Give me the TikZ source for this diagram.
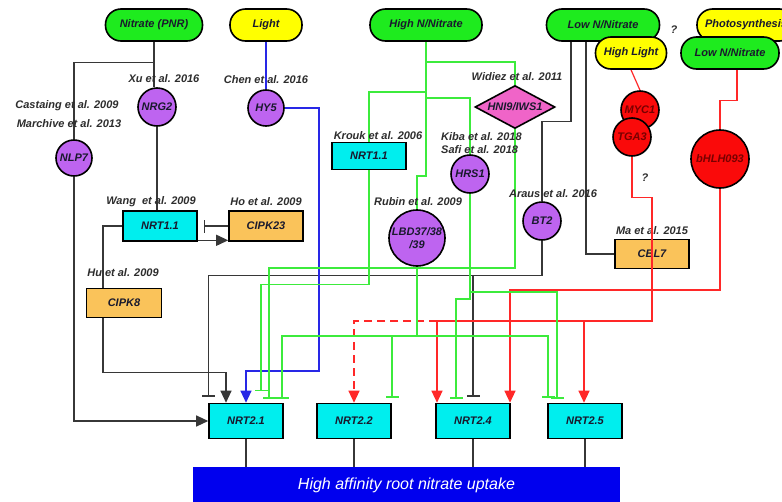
\documentclass[tikz,border=0pt]{standalone}
\usepackage{fontspec}
\setmainfont{Liberation Sans}
\usetikzlibrary{arrows.meta,shapes.geometric}
\definecolor{cgreen}{RGB}{30,235,30}
\definecolor{cyellow}{RGB}{255,255,0}
\definecolor{cpurple}{RGB}{190,100,240}
\definecolor{cpink}{RGB}{240,100,200}
\definecolor{cred}{RGB}{250,10,10}
\definecolor{ccyan}{RGB}{0,238,238}
\definecolor{corange}{RGB}{250,195,90}
\definecolor{cbar}{RGB}{0,0,238}
\definecolor{lgreen}{RGB}{60,235,60}
\definecolor{lred}{RGB}{255,40,40}
\definecolor{lblue}{RGB}{40,40,230}
\definecolor{lblack}{RGB}{55,55,55}
\definecolor{labc}{RGB}{45,45,45}
\definecolor{txtc}{RGB}{25,25,45}
\definecolor{redtxt}{RGB}{120,0,0}
\pgfdeclarelayer{bg}
\pgfsetlayers{bg,main}
\begin{document}
\begin{tikzpicture}[x=1pt,y=-1pt,
  fnt/.style={font=\fontsize{11}{13}\selectfont\bfseries\itshape},
  lab/.style={fnt, text=labc, inner sep=0},
  pill/.style={fnt, text=txtc, draw=black, line width=1.6pt, rounded corners=15.5pt, minimum height=32pt, inner sep=0},
  circ/.style={fnt, text=txtc, circle, draw=black, line width=1.6pt, inner sep=0, fill=cpurple},
  rcirc/.style={fnt, text=redtxt, circle, draw=black, line width=1.6pt, inner sep=0, fill=cred},
  bx/.style={fnt, text=txtc, rectangle, draw=black, line width=1.6pt, inner sep=0, minimum width=74pt},
  conn/.style={line width=1.2pt},
  kline/.style={conn, draw=lblack},
  gline/.style={conn, draw=lgreen},
  rline/.style={conn, draw=lred},
  bline/.style={conn, draw=lblue},
  arr/.style={-{Triangle[length=12pt,width=11pt]}},
  inh/.style={-{Bar[width=13pt,line width=1.4pt]}},
  dashline/.style={dash pattern=on 8pt off 5pt}
]
\useasboundingbox (0,0) rectangle (782,501);
\clip (0,0) rectangle (782,501);

% ---- top signal boxes ----
\node[pill, fill=cgreen, minimum width=97pt] (pnr) at (154,25) {Nitrate (PNR)};
\node[pill, fill=cyellow, minimum width=72pt] (light) at (266,25) {Light};
\node[pill, fill=cgreen, minimum width=112pt] (highn) at (426,25) {High N/Nitrate};
\node[pill, fill=cgreen, minimum width=113pt] (lown) at (603,25) {Low N/Nitrate};
\node[pill, fill=cyellow, minimum width=71pt] (highlight) at (631,53) {High Light};
\node[pill, fill=cyellow, minimum width=98pt] (photo) at (746,25) {Photosynthesis};
\node[pill, fill=cgreen, minimum width=98pt] (lown2) at (730,53) {Low N/Nitrate};
\node[lab] (q1) at (674,30) {?};

% ---- regulators ----
\node[circ, minimum size=38pt] (nrg2) at (157,107) {NRG2};
\node[circ, minimum size=36pt] (nlp7) at (74,158) {NLP7};
\node[circ, minimum size=36pt] (hy5) at (266,108) {HY5};
\node[circ, minimum size=38pt] (hrs1) at (470,174) {HRS1};
\node[circ, minimum size=56pt, align=center] (lbd) at (417,238) {LBD37/38\\/39};
\node[circ, minimum size=38pt] (bt2) at (542,221) {BT2};
\node[fnt, text=txtc, diamond, draw=black, line width=1.6pt, fill=cpink, inner sep=0, aspect=1.86, minimum width=80pt, minimum height=43pt] (hni9) at (515,107) {HNI9/IWS1};
\node[rcirc, minimum size=38pt] (myc1) at (640,110) {MYC1};
\node[rcirc, minimum size=38pt] (tga3) at (632,137) {TGA3};
\node[rcirc, minimum size=58pt] (bhlh) at (720,159) {bHLH093};
\node[lab] (q2) at (645,178) {?};

\node[bx, fill=ccyan, minimum height=27pt] (nrt11k) at (369,156) {NRT1.1};
\node[bx, fill=ccyan, minimum height=30pt] (nrt11w) at (160,226) {NRT1.1};
\node[bx, fill=corange, minimum height=30pt] (cipk23) at (266,226) {CIPK23};
\node[bx, fill=corange, minimum height=29pt, minimum width=75pt] (cipk8) at (124,303) {CIPK8};
\node[bx, fill=corange, minimum height=29pt] (cbl7) at (652,254) {CBL7};

% ---- transporters ----
\node[bx, fill=ccyan, minimum height=35pt] (nrt21) at (246,421) {NRT2.1};
\node[bx, fill=ccyan, minimum height=35pt] (nrt22) at (354,421) {NRT2.2};
\node[bx, fill=ccyan, minimum height=35pt] (nrt24) at (473,421) {NRT2.4};
\node[bx, fill=ccyan, minimum height=35pt] (nrt25) at (585,421) {NRT2.5};
\node[fill=cbar, minimum width=427pt, minimum height=36pt, inner sep=0, text=white,
      font=\fontsize{16}{18}\selectfont\itshape] (uptake) at (406.5,485) {High affinity root nitrate uptake};

% ---- citations ----
\node[lab] (xu) at (164,79) {Xu et al. 2016};
\node[lab] (castaing) at (67,106) {Castaing et al. 2009};
\node[lab] (marchive) at (69,124) {Marchive et al. 2013};
\node[lab] (chen) at (266,80) {Chen et al. 2016};
\node[lab] (krouk) at (378,136) {Krouk et al. 2006};
\node[lab] (widiez) at (517,77) {Widiez et al. 2011};
\node[lab, anchor=west] (kiba) at (441,137) {Kiba et al. 2018};
\node[lab, anchor=west] (safi) at (441,150) {Safi et al. 2018};
\node[lab] (araus) at (553,194) {Araus et al. 2016};
\node[lab] (rubin) at (418,202) {Rubin et al. 2009};
\node[lab] (wang) at (151,202) {Wang\ \ et al. 2009};
\node[lab] (ho) at (266,202) {Ho et al. 2009};
\node[lab] (hu) at (123,273) {Hu et al. 2009};
\node[lab] (ma) at (652,231) {Ma et al. 2015};

\begin{pgfonlayer}{bg}
\fill[white] (0,0) rectangle (782,501);
% black
\draw[kline] (pnr.south) -- (pnr.south |- nrg2.north);
\draw[kline] (pnr.south) ++(0,21) -| (nlp7.north);
\draw[kline] (nrg2.south) -- (nrg2.south |- nrt11w.north);
\draw[kline, arr] (nlp7.south) |- (nrt21.west);
\draw[kline] (nrt11w.west) -| ([xshift=-21pt]cipk8.north);
\draw[kline, arr] ([xshift=-21pt]cipk8.south) -- ++(0,54) -| ([xshift=-20pt]nrt21.north);
\draw[kline, inh] (cipk23.west) -- ([xshift=6pt]nrt11w.east);
\draw[kline, arr] ([yshift=1.5pt]nrt11w.south east) -- ([yshift=1.5pt]cipk23.south west);
\draw[kline, inh] (bt2.south) -- ++(0,35) -| ([yshift=6pt]nrt21.north west);
\coordinate (bj) at (473,275);
\draw[kline, inh] (bj) -- ([yshift=6pt]nrt24.north);
\draw[kline] ([xshift=-32pt]lown.south) -- ++(0,80) -| (bt2.north);
\draw[kline] ([xshift=-17pt]lown.south) |- (cbl7.west);
% blue
\draw[bline] (light) -- (hy5);
\draw[bline, arr] (hy5.east) -- (319,108) -- (319,371) -| (nrt21.north);
% red
\draw[rline] (highlight.south) -- (myc1.north);
\draw[rline] ([xshift=7pt]lown2.south) -- ++(0,31) -| (bhlh.north);
\draw[rline, arr] (bhlh.south) -- (720,290) -| ([xshift=37pt]nrt24.north);
\coordinate (rj) at (584,321);
\draw[rline, arr] (rj) -| ([xshift=-36pt]nrt24.north);
\draw[rline, arr, dashline] ([xshift=-36pt]nrt24.north |- rj) -| (nrt22.north);
% green
\draw[gline] (highn.south) -- (426,176) -- (417,176) -- (lbd.north);
\draw[gline] (426,62) -| (hni9.north);
\draw[gline] (426,92) -| (nrt11k.north);
\draw[gline] (426,98) -| (hrs1.north);
\draw[gline, inh] (nrt11k.south) -- ++(0,114.5) -| ([xshift=15pt,yshift=11.5pt]nrt21.north);
\draw[gline, inh] (hni9.south) -- (515,268) -| ([xshift=23pt,yshift=4pt]nrt21.north);
\coordinate (gj) at (417,336);
\draw[gline, inh] (lbd.south) -- (gj) -| ([xshift=36pt,yshift=4pt]nrt21.north);
\draw[gline, inh] (gj) -| ([xshift=38pt,yshift=5pt]nrt22.north);
\draw[gline, inh] (gj) -| ([xshift=-37pt,yshift=5pt]nrt25.north);
\draw[gline, inh] (hrs1.south) -- (470,299) -| ([xshift=-17pt,yshift=4pt]nrt24.north);
\draw[gline, inh] (470,292) -| ([xshift=-28pt,yshift=4pt]nrt25.north);
% to uptake bar
\draw[kline] (nrt21.south) -- (nrt21.south |- uptake.north);
\draw[kline] (nrt22.south) -- (nrt22.south |- uptake.north);
\draw[kline] (nrt24.south) -- (nrt24.south |- uptake.north);
\draw[kline] (nrt25.south) -- (nrt25.south |- uptake.north);
\end{pgfonlayer}
% red line that runs across the CBL7 box
\draw[rline, arr] (tga3.south) -- ++(0,41) -| (652,321) -| ([xshift=-1pt]nrt25.north);
\end{tikzpicture}
\end{document}
